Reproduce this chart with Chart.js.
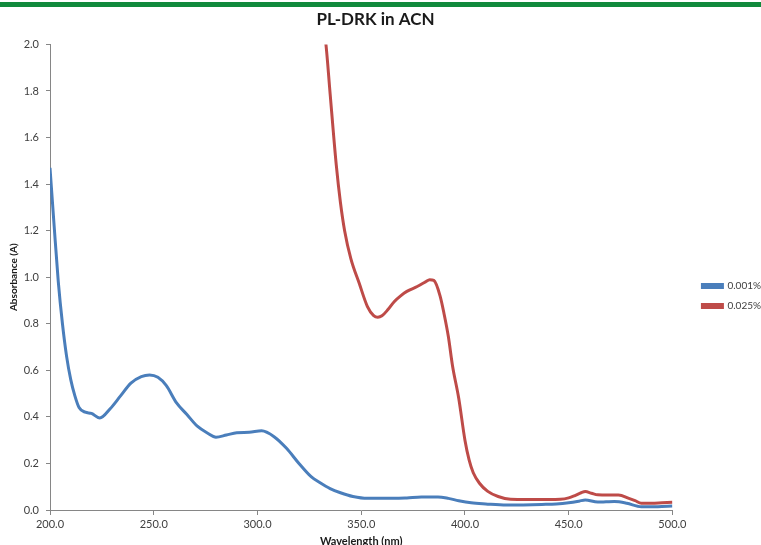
<!DOCTYPE html>
<html>
<head>
<meta charset="utf-8">
<title>PL-DRK in ACN</title>
<script src="https://cdn.jsdelivr.net/npm/chart.js@4.4.1/dist/chart.umd.min.js"></script>
<style>
  html, body { margin: 0; padding: 0; background: #fff; }
  #wrap { width: 761px; height: 545px; }
</style>
</head>
<body>
<div id="wrap"><canvas id="uvChart" width="761" height="545"></canvas></div>
<script>
// wavelengths (nm) and absorbance
const lowX = [200, 202, 204, 206, 208, 210, 212, 214, 217, 220, 224, 229, 234, 239, 244, 248, 252, 256, 261, 266,
  271, 276, 280, 285, 290, 296, 302, 308, 314, 320, 326, 330, 335, 340, 346, 353, 360, 366, 372, 379,
  387, 392, 397, 403, 410, 420, 428, 437, 444, 450, 455, 458, 464, 468, 472, 478, 485, 493, 500];
const lowY = [1.47, 1.22, 0.98, 0.80, 0.66, 0.56, 0.49, 0.44, 0.42, 0.415, 0.395, 0.435, 0.49, 0.545, 0.573, 0.58, 0.57, 0.535, 0.46, 0.41,
  0.36, 0.33, 0.313, 0.322, 0.332, 0.334, 0.34, 0.315, 0.265, 0.2, 0.142, 0.118, 0.092, 0.074, 0.058, 0.05, 0.05, 0.05, 0.052, 0.056,
  0.056, 0.05, 0.04, 0.031, 0.026, 0.021, 0.022, 0.024, 0.026, 0.031, 0.038, 0.043, 0.034, 0.035, 0.036, 0.029, 0.014, 0.014, 0.017];

const highX = [332, 333, 335, 338, 340, 342, 345, 349, 353, 356, 358, 360, 363, 366, 369, 372, 377, 381, 383, 385,
  388, 390, 392, 394, 397, 400, 402, 404, 407, 411, 416, 422, 430, 440, 446, 450, 453, 456, 458, 461,
  464, 469, 474, 479, 482, 485, 490, 495, 500];
const highY = [2.06, 2.0, 1.79, 1.48, 1.32, 1.20, 1.08, 0.975, 0.874, 0.835, 0.828, 0.834, 0.862, 0.896, 0.92, 0.939, 0.96, 0.98, 0.989, 0.986,
  0.92, 0.84, 0.745, 0.62, 0.48, 0.30, 0.215, 0.16, 0.115, 0.08, 0.058, 0.046, 0.045, 0.045, 0.046, 0.052, 0.062, 0.074, 0.079, 0.072,
  0.065, 0.064, 0.064, 0.05, 0.04, 0.029, 0.029, 0.031, 0.033];

const seriesNames = ['0.001%', '0.025%'];
const xTicks = [200, 250, 300, 350, 400, 450, 500];
const yTicks = [0, 0.2, 0.4, 0.6, 0.8, 1.0, 1.2, 1.4, 1.6, 1.8, 2.0];

const toPoints = (xs, ys) => xs.map((x, i) => ({ x, y: ys[i] }));

const FONT = 'Lato, "Open Sans", sans-serif';
const AXIS = '#868686';
const TEXT = '#404040';

// green rule across the top of the slide
const topBar = {
  id: 'topBar',
  beforeDraw(chart) {
    const { ctx, width } = chart;
    ctx.save();
    ctx.fillStyle = '#ffffff';
    ctx.fillRect(0, 0, width, chart.height);
    ctx.fillStyle = '#118a3c';
    ctx.fillRect(0, 2, width, 5);
    ctx.restore();
  },
};

// push the legend a bit right and down, like the excel layout
const legendNudge = {
  id: 'legendNudge',
  afterLayout(chart) {
    const lg = chart.legend;
    if (!lg) return;
    lg.left += 20; lg.right += 20;
    lg.top += 20; lg.bottom += 20;
  },
};

new Chart(document.getElementById('uvChart'), {
  type: 'line',
  data: {
    datasets: [
      {
        label: seriesNames[0],
        data: toPoints(lowX, lowY),
        borderColor: '#4a7ebb',
        backgroundColor: '#4a7ebb',
        borderWidth: 3,
        pointRadius: 0,
        cubicInterpolationMode: 'monotone',
      },
      {
        label: seriesNames[1],
        data: toPoints(highX, highY),
        borderColor: '#be4b48',
        backgroundColor: '#be4b48',
        borderWidth: 3,
        pointRadius: 0,
        cubicInterpolationMode: 'monotone',
      },
    ],
  },
  options: {
    responsive: false,
    animation: false,
    events: [],
    layout: { padding: { top: 7, right: 10, left: 0, bottom: 0 } },
    plugins: {
      title: {
        display: true,
        text: 'PL-DRK in ACN',
        color: '#1a1a1a',
        font: { family: FONT, size: 17, weight: 'bold' },
        padding: { top: 2, bottom: 15 },
      },
      legend: {
        position: 'right',
        labels: {
          boxWidth: 20,
          boxHeight: 3,
          padding: 10,
          color: TEXT,
          font: { family: FONT, size: 10 },
        },
      },
      tooltip: { enabled: false },
    },
    scales: {
      x: {
        type: 'linear',
        min: 200,
        max: 500,
        afterBuildTicks: (scale) => { scale.ticks = xTicks.map((v) => ({ value: v })); },
        afterFit: (scale) => { scale.height = 35; },
        grid: { display: true, drawOnChartArea: false, color: AXIS, tickLength: 5 },
        border: { color: AXIS, width: 1 },
        ticks: {
          color: TEXT,
          font: { family: FONT, size: 11 },
          padding: 3,
          maxRotation: 0,
          callback: (v) => Number(v).toFixed(1),
        },
        title: {
          display: true,
          text: 'Wavelength (nm)',
          color: '#1a1a1a',
          font: { family: FONT, size: 11, weight: 'bold' },
          padding: { top: 0, bottom: -3 },
        },
      },
      y: {
        min: 0,
        max: 2,
        afterBuildTicks: (scale) => { scale.ticks = yTicks.map((v) => ({ value: v })); },
        afterFit: (scale) => { scale.width = 50; },
        grid: { display: true, drawOnChartArea: false, color: AXIS, tickLength: 4 },
        border: { color: AXIS, width: 1 },
        ticks: {
          color: TEXT,
          font: { family: FONT, size: 11 },
          padding: 7,
          callback: (v) => Number(v).toFixed(1),
        },
        title: {
          display: true,
          text: 'Absorbance (A)',
          color: '#1a1a1a',
          font: { family: FONT, size: 10, weight: 'bold' },
          padding: { top: 8, bottom: 0 },
        },
      },
    },
  },
  plugins: [topBar, legendNudge],
});
</script>
</body>
</html>
